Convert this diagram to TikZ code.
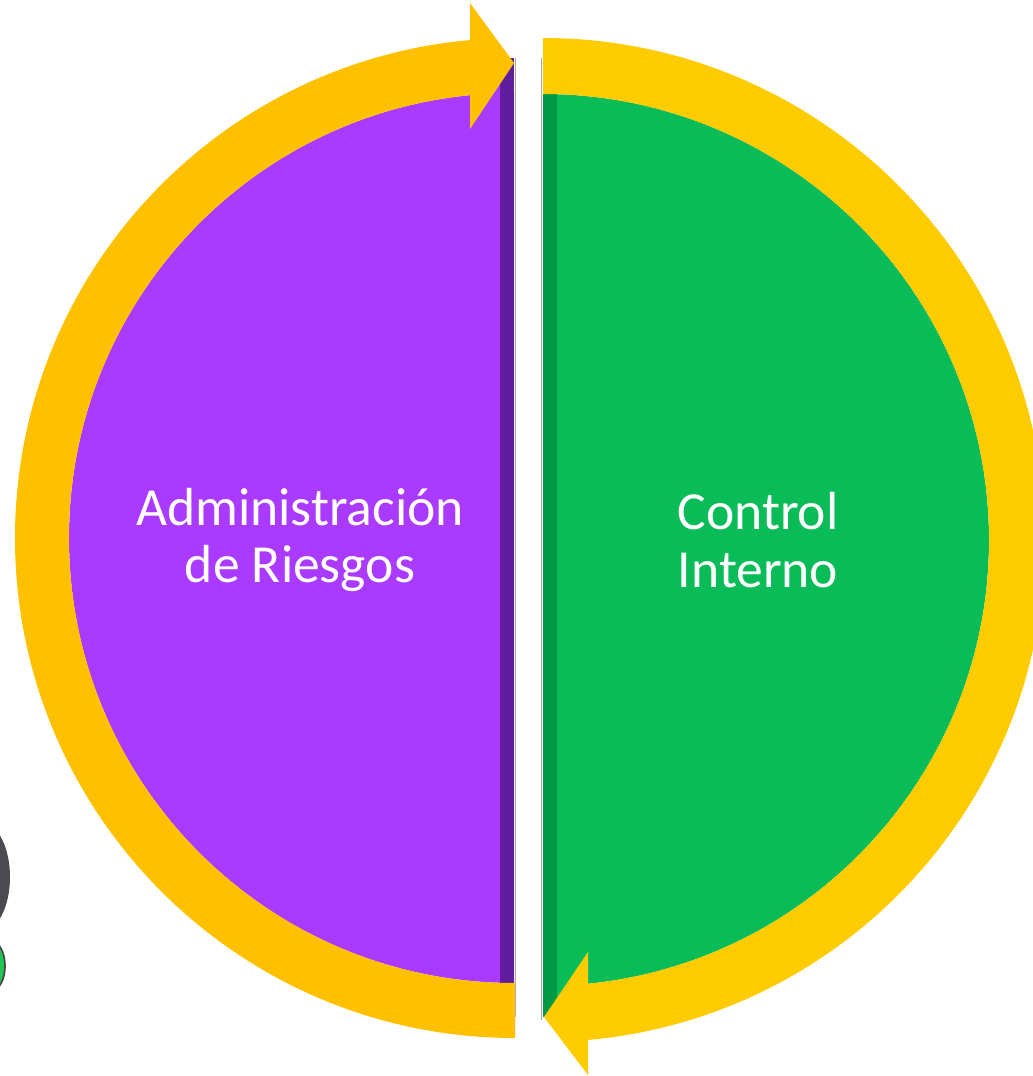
\documentclass[tikz,border=0pt]{standalone}
\usepackage{fontspec}
\setmainfont{Carlito}
\definecolor{bandgold}{HTML}{FFC000}
\definecolor{bandyellow}{HTML}{FFCC02}
\definecolor{riskpurple}{HTML}{AA3AFF}
\definecolor{riskdark}{HTML}{5F1F9C}
\definecolor{ctrlgreen}{HTML}{09BC58}
\definecolor{ctrldark}{HTML}{009A47}
\definecolor{edgegrey}{HTML}{A8A8AC}
\definecolor{blobgrey}{HTML}{4A4A50}
\definecolor{blobgreen}{HTML}{1FC74E}
\begin{document}
\begin{tikzpicture}[x=0.02cm, y=0.02cm]
\tikzstyle{every node}+=[inner sep=0pt]
\tikzstyle{halflabel}=[text=white, align=center, font=\fontsize{30.5}{33}\selectfont]
\useasboundingbox (0,0) rectangle (1033,-1076);
\clip (0,0) rectangle (1033,-1076);
% cut-off shapes at the left border
\fill [blobgrey] (-18,-877) ellipse (28 and 54);
\filldraw [fill=blobgreen, draw=blobgrey, line width=1pt] (-9,-966) ellipse (14 and 25);
% left half
\fill [riskpurple] (514,-93) arc (90:270:445) -- cycle;
\fill [riskpurple] (470,-70) rectangle (514,-130);
\fill [riskdark] (500,-58) rectangle (514,-983);
\draw [edgegrey, line width=0.8pt] (515.5,-58) -- (515.5,-1017);
\fill [bandgold] (515,-1038) arc (270:95.05:500) -- (470,-95.2) arc (95.67:270:445) -- (515,-983) -- cycle;
\fill [bandgold] (470,-3) -- (514,-63) -- (470,-129) -- cycle;
\node [halflabel] (risk) at (300,-540) {Administración\\de Riesgos};
% right half
\fill [ctrlgreen] (543,-94) arc (90:-90:446) -- cycle;
\fill [ctrlgreen] (543,-950) rectangle (588,-1010);
\fill [ctrldark] (543,-94) rectangle (557,-1017);
\draw [edgegrey, line width=0.8pt] (541.5,-58) -- (541.5,-1020);
\fill [bandyellow] (543,-38) arc (90:-84.86:502) -- (588,-983.7) arc (-84.21:90:446) -- cycle;
\fill [bandyellow] (588,-952) -- (544,-1017) -- (588,-1075) -- cycle;
\node [halflabel] (ctrl) at (758,-540) {Control\\Interno};
\end{tikzpicture}
\end{document}
